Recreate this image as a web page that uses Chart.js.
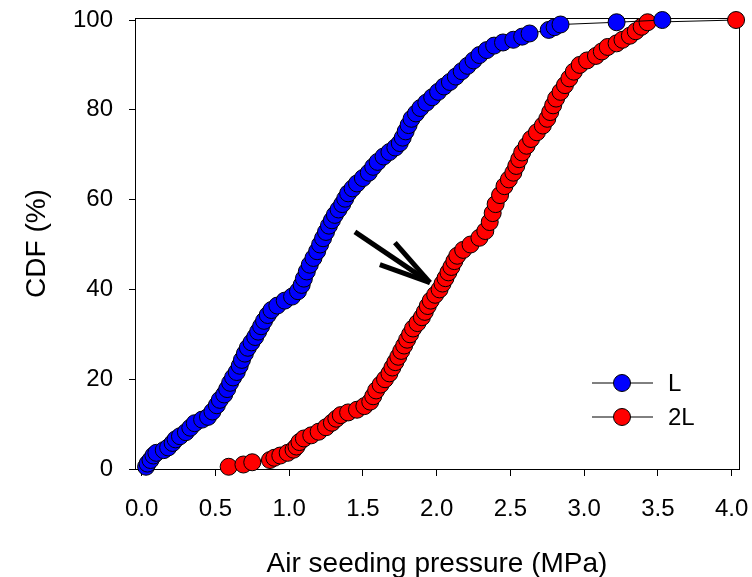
<!DOCTYPE html>
<html>
<head>
<meta charset="utf-8">
<script src="https://cdn.jsdelivr.net/npm/chart.js@4"></script>
<style>
  body { margin: 0; background: #fff; }
  #wrap { width: 752px; height: 577px; }
</style>
</head>
<body>
<div id="wrap"><canvas id="myChart"></canvas></div>
<script>
const seriesNames = ['L', '2L'];

// L : air seeding pressure (MPa) / CDF (%)
const xL = [0.03, 0.04, 0.06, 0.08, 0.10, 0.15, 0.18, 0.21, 0.23, 0.26, 0.30, 0.33, 0.36, 0.41, 0.45, 0.48,
  0.51, 0.53, 0.56, 0.58, 0.60, 0.62, 0.645, 0.665, 0.68, 0.70, 0.72, 0.745, 0.77, 0.79, 0.81, 0.83,
  0.855, 0.88, 0.92, 0.97, 1.02, 1.06, 1.085, 1.10, 1.12, 1.14, 1.165, 1.19, 1.21, 1.23, 1.25, 1.27,
  1.29, 1.31, 1.335, 1.36, 1.38, 1.40, 1.43, 1.46, 1.50, 1.54, 1.57, 1.60, 1.64, 1.68, 1.72, 1.75,
  1.77, 1.79, 1.81, 1.83, 1.86, 1.89, 1.93, 1.97, 2.01, 2.05, 2.09, 2.13, 2.17, 2.21, 2.25, 2.29,
  2.34, 2.39, 2.45, 2.52, 2.58, 2.63, 2.76, 2.80, 2.84, 3.22, 3.53];
const yL = [0.5, 1.2, 2.0, 3.0, 3.6, 4.2, 4.8, 5.8, 6.6, 7.3, 8.2, 9.2, 10.2, 11.0, 11.6, 12.8,
  14.2, 15.4, 16.6, 17.8, 19.2, 20.4, 21.6, 23.0, 24.3, 25.7, 27.0, 28.2, 29.4, 30.6, 31.8, 33.0,
  34.3, 35.4, 36.4, 37.5, 38.4, 39.6, 41.0, 42.4, 44.0, 45.5, 47.0, 48.5, 50.0, 51.4, 52.8, 54.2,
  55.4, 56.6, 57.8, 59.0, 60.2, 61.4, 62.5, 63.6, 64.8, 66.0, 67.3, 68.4, 69.6, 70.6, 71.6, 72.6,
  73.8, 75.2, 76.6, 78.0, 79.2, 80.4, 81.6, 82.8, 84.0, 85.2, 86.2, 87.4, 88.6, 89.8, 91.0, 92.2,
  93.3, 94.3, 95.0, 95.6, 96.3, 97.0, 97.8, 98.4, 99.0, 99.5, 100];

// 2L
const x2L = [0.59, 0.69, 0.75, 0.87, 0.90, 0.94, 0.99, 1.03, 1.05, 1.07, 1.10, 1.15, 1.20, 1.25, 1.29, 1.32,
  1.35, 1.40, 1.46, 1.51, 1.55, 1.57, 1.59, 1.62, 1.65, 1.68, 1.70, 1.72, 1.74, 1.76, 1.78, 1.80,
  1.82, 1.84, 1.87, 1.90, 1.92, 1.94, 1.96, 1.99, 2.02, 2.04, 2.06, 2.08, 2.10, 2.12, 2.14, 2.18,
  2.23, 2.29, 2.33, 2.36, 2.38, 2.40, 2.43, 2.46, 2.49, 2.52, 2.54, 2.56, 2.58, 2.61, 2.64, 2.68,
  2.72, 2.75, 2.77, 2.79, 2.81, 2.84, 2.87, 2.90, 2.93, 2.97, 3.02, 3.08, 3.12, 3.16, 3.22, 3.26,
  3.31, 3.35, 3.39, 3.43, 4.03];
const y2L = [0.5, 1.0, 1.5, 2.0, 2.5, 3.0, 3.6, 4.3, 5.0, 6.0, 6.8, 7.5, 8.3, 9.3, 10.3, 11.2,
  12.0, 12.6, 13.2, 14.0, 15.0, 16.2, 17.5, 18.8, 20.0, 21.3, 22.6, 23.8, 25.0, 26.3, 27.5, 28.8,
  30.0, 31.3, 32.5, 33.8, 35.0, 36.3, 37.5, 38.8, 40.0, 41.3, 42.5, 43.8, 45.0, 46.3, 47.5, 48.8,
  50.0, 51.5, 53.0, 55.0, 57.0, 59.0, 61.0, 63.0, 64.5, 66.0, 67.5, 69.0, 70.5, 72.0, 73.5, 75.0,
  76.5, 78.0, 79.5, 81.0, 82.5, 84.0, 85.5, 87.0, 88.5, 90.0, 91.0, 92.0, 93.0, 94.0, 94.8, 95.6,
  96.5, 97.5, 98.5, 99.5, 100];

const xTicks = [0.0, 0.5, 1.0, 1.5, 2.0, 2.5, 3.0, 3.5, 4.0];
const yTicks = [0, 20, 40, 60, 80, 100];

// arrow in data units: shaft start, tip, two barb ends
const arrowFrom = [1.446, 52.8];
const arrowTip = [1.955, 41.5];
const arrowBarbs = [[1.717, 50.4], [1.615, 45.5]];

const toPoints = (xs, ys) => xs.map((x, i) => ({x: x, y: ys[i]}));

const FONT = "'Liberation Sans', Arial, sans-serif";

const framePlugin = {
  id: 'frame',
  beforeDatasetsDraw(chart) {
    const {ctx, chartArea: a} = chart;
    ctx.save();
    ctx.strokeStyle = '#000';
    ctx.lineWidth = 1;
    ctx.strokeRect(a.left + 0.5, a.top + 0.5, a.right - a.left, a.bottom - a.top);
    ctx.restore();
  },
  afterDatasetsDraw(chart) {
    const {ctx} = chart;
    const xs = chart.scales.x, ys = chart.scales.y;
    const px = p => [xs.getPixelForValue(p[0]), ys.getPixelForValue(p[1])];
    ctx.save();
    // arrow
    ctx.strokeStyle = '#000';
    ctx.lineWidth = 5;
    const tip = px(arrowTip);
    [arrowFrom].concat(arrowBarbs).forEach(p => {
      const s = px(p);
      ctx.beginPath();
      ctx.moveTo(s[0], s[1]);
      ctx.lineTo(tip[0], tip[1]);
      ctx.stroke();
    });
    // legend
    const lx = 592, ly = 383, gap = 34;
    chart.data.datasets.forEach((ds, i) => {
      const y = ly + i * gap;
      ctx.lineWidth = 1;
      ctx.strokeStyle = '#000';
      ctx.beginPath();
      ctx.moveTo(lx, y);
      ctx.lineTo(lx + 61, y);
      ctx.stroke();
      ctx.beginPath();
      ctx.arc(lx + 30, y, 8.5, 0, Math.PI * 2);
      ctx.fillStyle = ds.backgroundColor;
      ctx.fill();
      ctx.stroke();
      ctx.fillStyle = '#000';
      ctx.font = '24px ' + FONT;
      ctx.textBaseline = 'middle';
      ctx.fillText(ds.label, lx + 76, y + 1);
    });
    ctx.restore();
  }
};

const ctx = document.getElementById('myChart');

new Chart(ctx, {
  type: 'scatter',
  data: {
    datasets: [{
      label: seriesNames[0],
      data: toPoints(xL, yL),
      backgroundColor: '#0000ff',
      borderColor: '#000',
      borderWidth: 1,
      pointRadius: 8.5,
      pointBorderWidth: 1,
      pointBorderColor: '#000',
      showLine: true,
      clip: false,
    }, {
      label: seriesNames[1],
      data: toPoints(x2L, y2L),
      backgroundColor: '#ff0000',
      borderColor: '#000',
      borderWidth: 1,
      pointRadius: 8.5,
      pointBorderWidth: 1,
      pointBorderColor: '#000',
      showLine: true,
      clip: false,
    }]
  },
  options: {
    responsive: true,
    maintainAspectRatio: false,
    animation: false,
    layout: {
      autoPadding: false,
      padding: {top: 18, right: 13, bottom: 0, left: 0}
    },
    scales: {
      x: {
        type: 'linear',
        min: -0.045,
        max: 4.05,
        afterBuildTicks: s => { s.ticks = xTicks.map(v => ({value: v})); },
        afterFit: s => { s.height = 108; s.paddingLeft = 0; s.paddingRight = 0; },
        grid: {drawOnChartArea: false, drawTicks: true, tickLength: 7, color: '#000'},
        border: {display: true, color: '#000', width: 1},
        ticks: {
          color: '#000',
          font: {family: FONT, size: 24},
          padding: 19,
          maxRotation: 0,
          callback: v => v.toFixed(1)
        },
        title: {
          display: true,
          text: 'Air seeding pressure (MPa)',
          color: '#000',
          font: {family: FONT, size: 28},
          padding: {top: 0, bottom: -4}
        }
      },
      y: {
        type: 'linear',
        min: 0,
        max: 100.45,
        afterBuildTicks: s => { s.ticks = yTicks.map(v => ({value: v})); },
        afterFit: s => { s.width = 135; s.paddingTop = 0; s.paddingBottom = 0; },
        grid: {drawOnChartArea: false, drawTicks: true, tickLength: 6, color: '#000'},
        border: {display: true, color: '#000', width: 1},
        ticks: {
          color: '#000',
          font: {family: FONT, size: 24},
          padding: 16
        },
        title: {
          display: true,
          text: 'CDF (%)',
          color: '#000',
          font: {family: FONT, size: 28},
          padding: {top: 20, bottom: 0}
        }
      }
    },
    plugins: {
      legend: {display: false},
      tooltip: {enabled: false}
    }
  },
  plugins: [framePlugin]
});
</script>
</body>
</html>
